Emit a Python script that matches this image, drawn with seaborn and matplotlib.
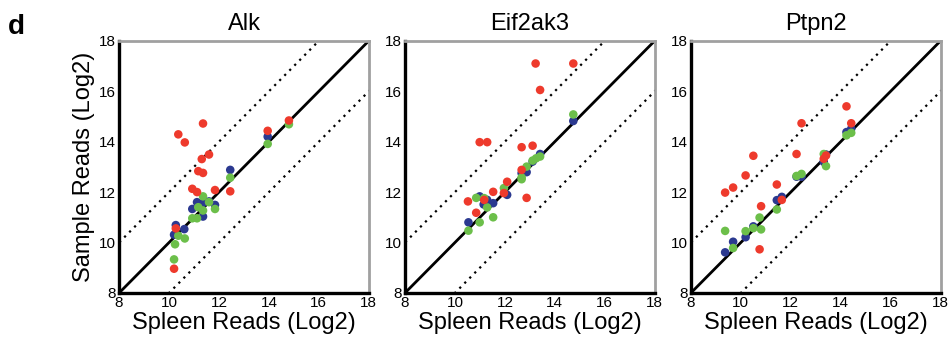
"""
Sample vs spleen read counts (log2) for three genes, panel d.
"""
import matplotlib

matplotlib.use("Agg")
import matplotlib.pyplot as plt
import numpy as np
import pandas as pd
import seaborn as sns


GENES = ["Alk", "Eif2ak3", "Ptpn2"]
GROUPS = ["blue", "green", "red"]
PALETTE = {"blue": "#2B3990", "green": "#6CBF4A", "red": "#EE3A2C"}
TICKS = [8, 10, 12, 14, 16, 18]

# Alk
alk_blue_x = [10.27, 10.2, 10.61, 10.93, 11.12, 11.36, 11.6, 11.36, 11.84, 12.45, 13.95]
alk_blue_y = [10.69, 10.31, 10.53, 11.33, 11.6, 11.57, 11.63, 11.03, 11.49, 12.88, 14.2]
alk_green_x = [10.2, 10.24, 10.37, 10.63, 10.93, 11.12, 11.17, 11.36, 11.36, 11.6, 11.84, 12.45, 13.95, 14.8]
alk_green_y = [9.33, 9.93, 10.27, 10.16, 10.96, 10.96, 11.4, 11.83, 11.27, 11.6, 11.33, 12.57, 13.91, 14.69]
alk_red_x = [10.37, 10.63, 11.36, 11.31, 11.6, 11.17, 11.36, 10.93, 11.12, 11.84, 12.45, 13.95, 14.8, 10.27, 10.2]
alk_red_y = [14.29, 13.97, 14.72, 13.31, 13.49, 12.83, 12.76, 12.13, 12.0, 12.08, 12.03, 14.43, 14.84, 10.56, 8.96]

# Eif2ak3
eif_blue_x = [10.54, 10.99, 11.15, 11.29, 11.53, 12.09, 12.67, 12.87, 13.11, 13.41, 14.74]
eif_blue_y = [10.8, 11.83, 11.51, 11.69, 11.56, 11.89, 12.75, 12.79, 13.21, 13.51, 14.82]
eif_green_x = [10.54, 10.85, 10.99, 11.17, 11.29, 11.53, 11.96, 12.67, 12.67, 12.87, 13.11, 13.25, 13.41, 14.74]
eif_green_y = [10.47, 11.77, 10.8, 11.76, 11.39, 11.0, 12.16, 12.51, 12.58, 13.01, 13.25, 13.34, 13.41, 15.08]
eif_red_x = [13.23, 14.74, 13.41, 10.99, 11.29, 12.67, 13.11, 10.52, 11.53, 12.09, 11.96, 10.85, 11.17, 12.67, 12.87]
eif_red_y = [17.1, 17.1, 16.05, 13.98, 13.98, 13.78, 13.84, 11.63, 12.01, 12.41, 11.96, 11.18, 11.69, 12.88, 11.77]

# Ptpn2
ptp_blue_x = [9.37, 9.69, 10.19, 10.5, 11.44, 11.64, 12.23, 12.43, 13.32, 13.41, 14.23, 14.42]
ptp_blue_y = [9.61, 10.03, 10.21, 10.64, 11.68, 11.81, 12.61, 12.61, 13.2, 13.49, 14.38, 14.51]
ptp_green_x = [9.37, 9.69, 10.19, 10.5, 10.75, 10.81, 11.44, 12.23, 12.43, 13.32, 13.41, 14.23, 14.42]
ptp_green_y = [10.46, 9.78, 10.45, 10.57, 10.99, 10.52, 11.31, 12.64, 12.72, 13.51, 13.03, 14.25, 14.35]
ptp_red_x = [9.37, 9.69, 10.19, 10.5, 11.44, 10.81, 10.75, 11.64, 12.23, 12.43, 13.32, 13.41, 14.23, 14.42]
ptp_red_y = [11.98, 12.18, 12.66, 13.44, 12.3, 11.44, 9.73, 11.69, 13.51, 14.73, 13.32, 13.45, 15.4, 14.73]

SERIES = {
    "Alk": [(alk_blue_x, alk_blue_y), (alk_green_x, alk_green_y), (alk_red_x, alk_red_y)],
    "Eif2ak3": [(eif_blue_x, eif_blue_y), (eif_green_x, eif_green_y), (eif_red_x, eif_red_y)],
    "Ptpn2": [(ptp_blue_x, ptp_blue_y), (ptp_green_x, ptp_green_y), (ptp_red_x, ptp_red_y)],
}


def build_frame() -> pd.DataFrame:
    rows = []
    for gene in GENES:
        for group, (xs, ys) in zip(GROUPS, SERIES[gene]):
            for x, y in zip(xs, ys):
                rows.append({"gene": gene, "group": group, "spleen": x, "sample": y})
    return pd.DataFrame(rows)


def main():
    sns.set_theme(style="white")
    plt.rcParams["font.family"] = ["Liberation Sans", "DejaVu Sans"]
    plt.rcParams.update({
        "text.color": "black",
        "axes.labelcolor": "black",
        "xtick.color": "black",
        "ytick.color": "black",
    })

    df = build_frame()
    fig = plt.figure(figsize=(9.53, 3.43), dpi=100)
    lefts = [0.125, 0.425, 0.725]
    line = np.array([6, 20])

    for i, gene in enumerate(GENES):
        ax = fig.add_axes([lefts[i], 0.146, 0.262, 0.735])
        ax.plot(line, line, color="black", lw=2, zorder=1)
        ax.plot(line, line + 2, color="black", lw=1.6, ls=(0, (1, 2.2)), zorder=1)
        ax.plot(line, line - 2, color="black", lw=1.6, ls=(0, (1, 2.2)), zorder=1)
        sns.scatterplot(
            data=df[df["gene"] == gene], x="spleen", y="sample", hue="group",
            palette=PALETTE, s=38, linewidth=0, legend=False, ax=ax, zorder=3,
        )
        ax.set_xlim(8, 18)
        ax.set_ylim(8, 18)
        ax.set_xticks(TICKS)
        ax.set_yticks(TICKS)
        ax.tick_params(direction="in", length=3, width=1.5, labelsize=11, pad=2, color="black")
        ax.set_title(gene, fontsize=17, pad=8)
        ax.set_xlabel("Spleen Reads (Log2)", fontsize=17, labelpad=2)
        if i == 0:
            ax.set_ylabel("Sample Reads (Log2)", fontsize=17, labelpad=3)
        else:
            ax.set_ylabel("")
        for side in ["left", "bottom"]:
            ax.spines[side].set_color("black")
            ax.spines[side].set_linewidth(2.4)
        for side in ["top", "right"]:
            ax.spines[side].set_color("#a0a0a0")
            ax.spines[side].set_linewidth(2)

    fig.text(0.008, 0.92, "d", fontsize=20, fontweight="bold", va="center")
    fig.savefig("out.png", dpi=100)
    plt.close(fig)


if __name__ == "__main__":
    main()
